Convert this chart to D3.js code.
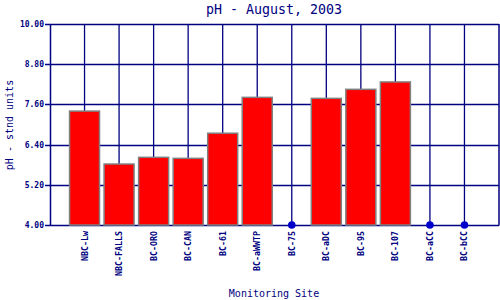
<!DOCTYPE html>
<meta charset="utf-8">
<html>
<script src="https://d3js.org/d3.v7.min.js"></script>
<style>
  body { margin: 0; background: white; }
  text { font-family: "DejaVu Sans Mono", "Liberation Mono", monospace; fill: #000080; }
</style>
<div id="chart"></div>
<script>

// data (null = no sample, drawn as a dot)
var sites = ["NBC-Lw", "NBC-FALLS", "BC-ORO", "BC-CAN", "BC-61", "BC-aWWTP",
             "BC-75", "BC-aDC", "BC-95", "BC-107", "BC-aCC", "BC-bCC"];
var ph = [7.40, 5.82, 6.02, 5.99, 6.74, 7.81, null, 7.78, 8.05, 8.27, null, null];
var yTicks = [4.00, 5.20, 6.40, 7.60, 8.80, 10.00];

var width = 500,
    height = 300,
    plotLeft = 50, plotRight = 499, plotTop = 24, plotBottom = 225;

var svg = d3.select("#chart")
  .append("svg")
    .attr("width", width)
    .attr("height", height);

var x = d3.scalePoint()
  .domain(sites)
  .range([plotLeft, plotRight])
  .padding(1);

var y = d3.scaleLinear()
  .domain([4, 10])
  .range([plotBottom, plotTop]);

// grid
svg.selectAll("line.hgrid")
  .data(yTicks)
  .enter().append("line")
    .attr("x1", plotLeft - 5)
    .attr("x2", plotRight)
    .attr("y1", function(d) { return Math.round(y(d)) + 0.5; })
    .attr("y2", function(d) { return Math.round(y(d)) + 0.5; })
    .attr("stroke", "#000080")
    .attr("stroke-width", 1.3);

svg.selectAll("line.vgrid")
  .data(sites)
  .enter().append("line")
    .attr("x1", function(d) { return x(d); })
    .attr("x2", function(d) { return x(d); })
    .attr("y1", plotTop)
    .attr("y2", plotBottom)
    .attr("stroke", "#000080")
    .attr("stroke-width", 1.3);

// frame left / right
svg.append("line")
  .attr("x1", plotLeft + 0.5).attr("x2", plotLeft + 0.5)
  .attr("y1", plotTop).attr("y2", plotBottom + 0.5)
  .attr("stroke", "#000080").attr("stroke-width", 1.5);
svg.append("line")
  .attr("x1", plotRight).attr("x2", plotRight)
  .attr("y1", plotTop).attr("y2", plotBottom + 0.5)
  .attr("stroke", "#000080").attr("stroke-width", 1.5);

var rows = sites.map(function(s, i) { return {site: s, v: ph[i]}; });

// bars
svg.selectAll("rect.bar")
  .data(rows.filter(function(d) { return d.v != null; }))
  .enter().append("rect")
    .attr("x", function(d) { return x(d.site) - 15; })
    .attr("width", 30)
    .attr("y", function(d) { return y(d.v); })
    .attr("height", function(d) { return y(4) - y(d.v); })
    .attr("fill", "#ff0000")
    .attr("stroke", "#808080")
    .attr("stroke-width", 1.5);

// missing samples
svg.selectAll("circle.nodata")
  .data(rows.filter(function(d) { return d.v == null; }))
  .enter().append("circle")
    .attr("cx", function(d) { return x(d.site); })
    .attr("cy", y(4))
    .attr("r", 3.8)
    .attr("fill", "#0000cc");

// y tick labels
svg.selectAll("text.ytick")
  .data(yTicks)
  .enter().append("text")
    .attr("x", 44)
    .attr("y", function(d) { return y(d) + 3; })
    .attr("text-anchor", "end")
    .style("font-size", "8px")
    .style("font-weight", "bold")
    .text(function(d) { return d.toFixed(2); });

// x tick labels
svg.selectAll("text.xtick")
  .data(sites)
  .enter().append("text")
    .attr("transform", function(d) { return "translate(" + (x(d) + 3) + ",231) rotate(-90)"; })
    .attr("text-anchor", "end")
    .style("font-size", "8.3px")
    .style("font-weight", "bold")
    .text(function(d) { return d; });

// titles
svg.append("text")
  .attr("x", 274)
  .attr("y", 14)
  .attr("text-anchor", "middle")
  .style("font-size", "13.3px")
  .text("pH - August, 2003");

svg.append("text")
  .attr("x", 274)
  .attr("y", 297)
  .attr("text-anchor", "middle")
  .style("font-size", "10px")
  .text("Monitoring Site");

svg.append("text")
  .attr("transform", "translate(13,125) rotate(-90)")
  .attr("text-anchor", "middle")
  .style("font-size", "10px")
  .text("pH - stnd units");

</script>
</html>
